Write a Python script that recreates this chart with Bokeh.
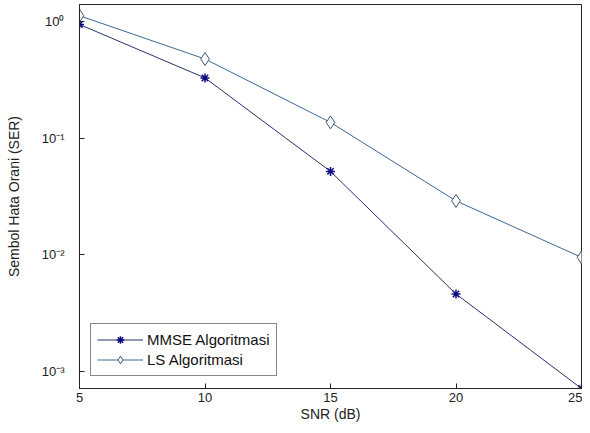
from bokeh.plotting import figure
from bokeh.models import Range1d, FixedTicker, Legend, LegendItem
from bokeh.embed import file_html
from bokeh.resources import INLINE

snr = [5, 10, 15, 20, 25]
mmse = [0.95, 0.33, 0.052, 0.0046, 0.00071]
ls = [1.13, 0.48, 0.137, 0.029, 0.0095]
y_ticks = [1e-3, 1e-2, 1e-1, 1e0]
y_tick_labels = {1e-3: "10⁻³", 1e-2: "10⁻²", 1e-1: "10⁻¹", 1e0: "10⁰"}
x_ticks = [5, 10, 15, 20, 25]

FONT = "Liberation Sans"

p = figure(width=582, height=425, y_axis_type="log", output_backend="svg",
           toolbar_location=None,
           x_range=Range1d(5, 25), y_range=Range1d(7.1e-4, 1.41),
           min_border_left=79, min_border_right=1, min_border_top=4,
           min_border_bottom=37)
p.background_fill_color = "white"
p.border_fill_color = "white"
p.outline_line_color = "#222222"
p.outline_line_width = 1
p.grid.visible = False

for ax in (p.xaxis[0], p.yaxis[0]):
    ax.major_tick_in = 5
    ax.major_tick_out = 0
    ax.minor_tick_in = 0
    ax.minor_tick_out = 0
    ax.axis_line_color = "#222222"
    ax.major_tick_line_color = "#222222"
    ax.major_label_text_font = FONT
    ax.major_label_text_font_size = "13px"
    ax.major_label_text_color = "#222222"
    ax.axis_label_text_font = FONT
    ax.axis_label_text_font_size = "14px"
    ax.axis_label_text_font_style = "normal"
    ax.axis_label_text_color = "#222222"

p.xaxis.ticker = FixedTicker(ticks=x_ticks)
p.yaxis.ticker = FixedTicker(ticks=y_ticks)
p.yaxis.major_label_overrides = y_tick_labels
p.xaxis.axis_label = "SNR (dB)"
p.yaxis.axis_label = "Sembol Hata Orani (SER)"
p.xaxis.axis_label_standoff = 1
p.yaxis.axis_label_standoff = 17
p.xaxis.major_label_standoff = 4
p.yaxis.major_label_standoff = 15

l1 = p.line(snr, mmse, line_color="#27336a", line_width=1)
s1 = p.scatter(snr, mmse, marker="asterisk", size=9, line_color="#0c0c80", line_width=1.5)
l2 = p.line(snr, ls, line_color="#3e6894", line_width=1)
s2 = p.scatter(snr, ls, marker="diamond", size=13, line_color="#3a5578",
               fill_color="white", line_width=1)

legend = Legend(items=[LegendItem(label="MMSE Algoritmasi", renderers=[l1, s1]),
                       LegendItem(label="LS Algoritmasi", renderers=[l2, s2])],
                location=(11, 12))
legend.label_text_font = FONT
legend.label_text_font_size = "15px"
legend.label_text_color = "#111111"
legend.border_line_color = "#111111"
legend.border_line_width = 1
legend.background_fill_alpha = 1
legend.glyph_width = 46
legend.glyph_height = 19
legend.label_standoff = 4
legend.padding = 6
legend.spacing = 1
legend.margin = 0
p.add_layout(legend, "center")

open("out.html", "w").write(file_html(p, INLINE))
